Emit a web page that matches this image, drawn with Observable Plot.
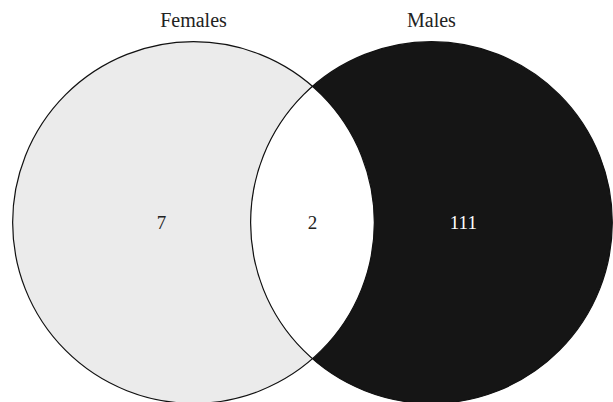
<!DOCTYPE html>
<html>
<head>
<meta charset="utf-8">
<script src="https://cdn.jsdelivr.net/npm/d3@7"></script>
<script src="https://cdn.jsdelivr.net/npm/@observablehq/plot@0.6"></script>
<style>
  html, body { margin: 0; padding: 0; background: #fff; }
  svg { display: block; }
</style>
</head>
<body>
<div id="chart"></div>
<script>
// Sets (layout: centers in data units, shared radius)
const setNames = ["Females", "Males"];
const setCx = [0, 1];
const setCy = [0, 0];
const setRadius = 0.76;
const setFill = ["#ebebeb", "#151515"];

// Region counts
const regionLabels = ["7", "2", "111"];
const regionX = [-0.134, 0.5, 1.134];
const regionY = [0, 0, 0];
const regionColor = ["#222", "#222", "#fff"];

const xDomain = [-0.811, 1.765];
const yDomain = [-0.756, 0.933];
const W = 613, H = 402;
const rPx = setRadius * W / (xDomain[1] - xDomain[0]);

const sets = setNames.map((name, i) => ({name, cx: setCx[i], cy: setCy[i], fill: setFill[i]}));
const regions = regionLabels.map((t, i) => ({t, x: regionX[i], y: regionY[i], c: regionColor[i]}));

const font = "'Liberation Serif', 'DejaVu Serif', serif";

const chart = Plot.plot({
  width: W,
  height: H,
  margin: 0,
  x: {domain: xDomain, axis: null},
  y: {domain: yDomain, axis: null},
  style: {fontFamily: font, background: "white"},
  marks: [
    // filled circles
    Plot.dot(sets, {x: "cx", y: "cy", r: rPx, fill: "fill", stroke: "none"}),
    // intersection (white lens): left circle clipped to right circle
    Plot.dot(sets.slice(0, 1), {
      x: "cx", y: "cy", r: rPx, fill: "white", stroke: "none",
      render(index, scales, values, dimensions, context, next) {
        const g = next(index, scales, values, dimensions, context);
        const id = "lens-clip-" + Math.random().toString(36).slice(2);
        const wrap = d3.create("svg:g");
        wrap.append("clipPath").attr("id", id)
          .append("circle")
          .attr("cx", scales.x(sets[1].cx))
          .attr("cy", scales.y(sets[1].cy))
          .attr("r", rPx);
        g.setAttribute("clip-path", `url(#${id})`);
        wrap.node().appendChild(g);
        return wrap.node();
      }
    }),
    // outlines
    Plot.dot(sets, {x: "cx", y: "cy", r: rPx, fill: "none", stroke: "#111", strokeWidth: 1.2}),
    // set titles above circles
    Plot.text(sets, {
      x: "cx", y: (d) => d.cy + setRadius, text: "name", dy: -21,
      fontSize: 20, fill: "#222", fontFamily: font
    }),
    // region counts
    Plot.text(regions, {
      x: "x", y: "y", text: "t", fill: "c",
      fontSize: 19, fontFamily: font
    })
  ]
});
document.getElementById("chart").appendChild(chart);
</script>
</body>
</html>
